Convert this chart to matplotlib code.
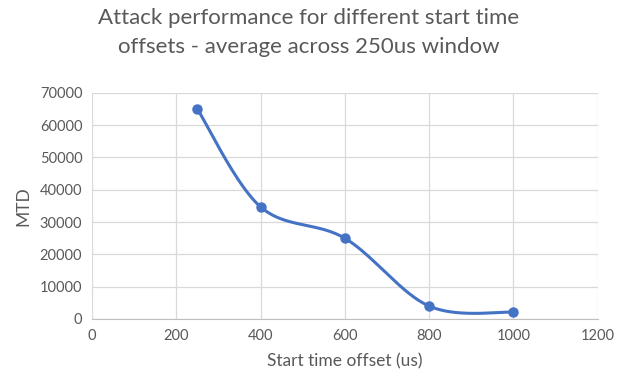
import matplotlib
matplotlib.use("Agg")
import matplotlib.pyplot as plt
import numpy as np

offsets = [250, 400, 600, 800, 1000]
mtd = [65000, 34700, 25000, 4000, 2100]

x_ticks = [0, 200, 400, 600, 800, 1000, 1200]
y_ticks = [0, 10000, 20000, 30000, 40000, 50000, 60000, 70000]

LINE = "#4472C4"
TEXT = "#595959"
GRID = "#D9D9D9"


def smooth(xs, ys, n=40):
    # Excel-like smoothed line: cubic Bezier segments with Catmull-Rom tangents
    p = np.column_stack([xs, ys]).astype(float)
    pts = []
    for i in range(len(p) - 1):
        p0 = p[i - 1] if i > 0 else p[i]
        p1, p2 = p[i], p[i + 1]
        p3 = p[i + 2] if i + 2 < len(p) else p[i + 1]
        c1 = p1 + (p2 - p0) / 6.0
        c2 = p2 - (p3 - p1) / 6.0
        t = np.linspace(0, 1, n)[:, None]
        seg = ((1 - t) ** 3) * p1 + 3 * ((1 - t) ** 2) * t * c1 + 3 * (1 - t) * t ** 2 * c2 + t ** 3 * p2
        pts.append(seg if i == 0 else seg[1:])
    pts = np.vstack(pts)
    return pts[:, 0], pts[:, 1]


plt.rcParams["font.family"] = ["Lato", "DejaVu Sans"]

fig = plt.figure(figsize=(6.18, 3.82), dpi=100)
ax = fig.add_axes([0.1489, 0.165, 0.818, 0.592])

sx, sy = smooth(offsets, mtd)
ax.plot(sx, sy, color=LINE, linewidth=2.2, solid_capstyle="round", zorder=3)
ax.plot(offsets, mtd, "o", color=LINE, markersize=6.5, zorder=4)

ax.set_xlim(0, 1200)
ax.set_ylim(0, 70000)
ax.set_xticks(x_ticks)
ax.set_yticks(y_ticks)
ax.set_xticklabels([str(v) for v in x_ticks])
ax.set_yticklabels([str(v) for v in y_ticks])
ax.grid(True, color=GRID, linewidth=0.9)
ax.set_axisbelow(True)
for side in ["top", "right", "left"]:
    ax.spines[side].set_visible(False)
ax.spines["bottom"].set_color("#BFBFBF")
ax.tick_params(length=0, labelsize=10.5, colors=TEXT, pad=7)

ax.set_xlabel("Start time offset (us)", fontsize=12.5, color=TEXT, labelpad=8)
ax.set_ylabel("MTD", fontsize=12.5, color=TEXT, labelpad=6)

fig.text(0.5, 0.98, "Attack performance for different start time\noffsets - average across 250us window",
         ha="center", va="top", fontsize=16, color=TEXT, linespacing=1.6)

fig.savefig("out.png", dpi=100)
